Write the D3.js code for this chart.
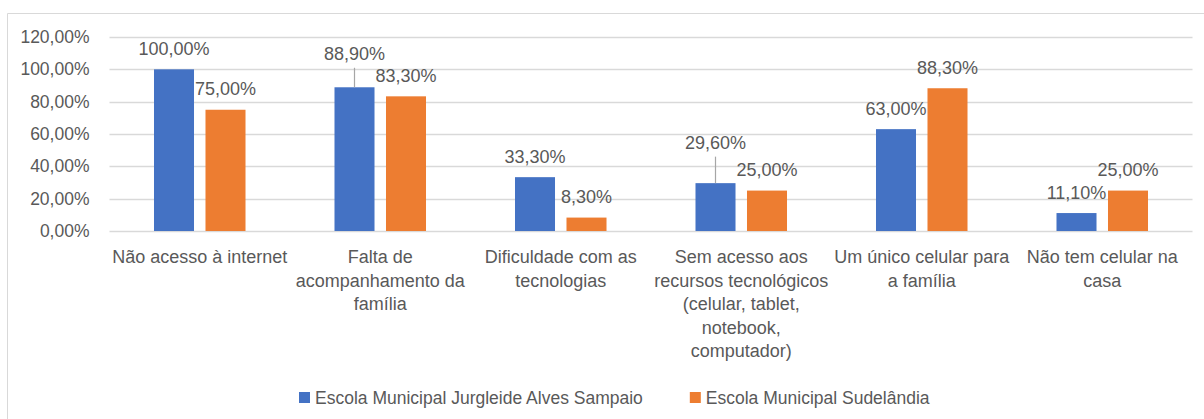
<!DOCTYPE html>
<html>
<head>
<meta charset="utf-8">
<script src="https://cdn.jsdelivr.net/npm/d3@7"></script>
<style>
    body { margin: 0; background: #fff; }
    svg { display: block; font-family: "Liberation Sans", Arial, sans-serif; }
    .axis-label, .cat-label, .value-label, .legend-label { fill: #595959; }
</style>
</head>
<body>
<div id="chart"></div>
<script>

// data
var categories = [
    ["Não acesso à internet"],
    ["Falta de", "acompanhamento da", "família"],
    ["Dificuldade com as", "tecnologias"],
    ["Sem acesso aos", "recursos tecnológicos", "(celular, tablet,", "notebook,", "computador)"],
    ["Um único celular para", "a família"],
    ["Não tem celular na", "casa"]
];
var seriesNames = ["Escola Municipal Jurgleide Alves Sampaio", "Escola Municipal Sudelândia"];
var jurgleideValues = [100, 88.9, 33.3, 29.6, 63, 11.1];
var sudelandiaValues = [75, 83.3, 8.3, 25, 88.3, 25];
var yTicks = [0, 20, 40, 60, 80, 100, 120];
var seriesColors = ["#4472C4", "#ED7D31"];

// labels that were dragged up in the original (px), they get a leader line
var labelLift = [[0, 13, 0, 20, 0, 0], [0, 0, 0, 0, 0, 0]];

var ptBR = d3.formatLocale({ decimal: ",", thousands: ".", grouping: [3], currency: ["R$", ""] });
var pct = function(v) { return ptBR.format(".2f")(v) + "%"; };

/*
 * BarChart
 */
BarChart = function(_parentElement) {
    var vis = this;
    vis.parentElement = _parentElement;
    vis.initVis();
};

BarChart.prototype.initVis = function() {
    var vis = this;
    vis.width = 1204;
    vis.height = 419;

    vis.svg = d3.select("#" + vis.parentElement).append("svg")
        .attr("width", vis.width)
        .attr("height", vis.height);

    // chart area border (only left and top are inside the picture)
    vis.svg.append("path")
        .attr("d", "M7.5," + vis.height + "V13.5H" + vis.width)
        .attr("fill", "none")
        .attr("stroke", "#d9d9d9")
        .attr("stroke-width", 1);

    vis.x0 = d3.scaleBand()
        .domain(d3.range(categories.length))
        .range([109.5, 1192.5]);

    vis.x1 = d3.scaleBand()
        .domain([0, 1])
        .range([0, vis.x0.bandwidth()])
        .paddingInner(0.223)
        .paddingOuter(0.864);

    vis.y = d3.scaleLinear()
        .domain([0, 120])
        .range([231, 37]);

    vis.yAxis = d3.axisLeft(vis.y)
        .tickValues(yTicks)
        .tickFormat(pct)
        .tickSize(0)
        .tickPadding(20);

    vis.wrangleData();
};

BarChart.prototype.wrangleData = function() {
    var vis = this;
    vis.displayData = [];
    [jurgleideValues, sudelandiaValues].forEach(function(values, s) {
        values.forEach(function(v, i) {
            vis.displayData.push({ cat: i, series: s, value: v, lift: labelLift[s][i] });
        });
    });
    vis.updateVis();
};

BarChart.prototype.updateVis = function() {
    var vis = this;

    // gridlines
    vis.svg.append("g")
        .selectAll("line")
        .data(yTicks)
        .enter().append("line")
        .attr("x1", vis.x0.range()[0])
        .attr("x2", vis.x0.range()[1])
        .attr("y1", function(d) { return Math.round(vis.y(d)) + 0.5; })
        .attr("y2", function(d) { return Math.round(vis.y(d)) + 0.5; })
        .attr("stroke", "#d9d9d9")
        .attr("stroke-width", 1.3);

    var yg = vis.svg.append("g")
        .attr("class", "y-axis")
        .attr("transform", "translate(" + vis.x0.range()[0] + ",0)")
        .call(vis.yAxis);
    yg.select(".domain").remove();
    yg.selectAll("text")
        .attr("class", "axis-label")
        .attr("fill", "#595959")
        .style("font-size", "17.5px")
        .style("font-family", "'Liberation Sans', Arial, sans-serif");

    // bars
    vis.svg.append("g")
        .selectAll("rect")
        .data(vis.displayData)
        .enter().append("rect")
        .attr("x", function(d) { return vis.x0(d.cat) + vis.x1(d.series); })
        .attr("width", vis.x1.bandwidth())
        .attr("y", function(d) { return vis.y(d.value); })
        .attr("height", function(d) { return vis.y(0) - vis.y(d.value); })
        .attr("fill", function(d) { return seriesColors[d.series]; });

    // leader lines for moved labels
    vis.svg.append("g")
        .selectAll("line")
        .data(vis.displayData.filter(function(d) { return d.lift > 0; }))
        .enter().append("line")
        .attr("x1", function(d) { return vis.x0(d.cat) + vis.x1(d.series) + vis.x1.bandwidth() / 2; })
        .attr("x2", function(d) { return vis.x0(d.cat) + vis.x1(d.series) + vis.x1.bandwidth() / 2; })
        .attr("y1", function(d) { return vis.y(d.value) - 14.5 - d.lift + 8; })
        .attr("y2", function(d) { return vis.y(d.value); })
        .attr("stroke", "#a6a6a6")
        .attr("stroke-width", 1.2);

    // value labels
    vis.svg.append("g")
        .selectAll("text")
        .data(vis.displayData)
        .enter().append("text")
        .attr("class", "value-label")
        .attr("x", function(d) { return vis.x0(d.cat) + vis.x1(d.series) + vis.x1.bandwidth() / 2; })
        .attr("y", function(d) { return vis.y(d.value) - 14.5 - d.lift; })
        .attr("text-anchor", "middle")
        .style("font-size", "18px")
        .text(function(d) { return pct(d.value); });

    // category labels, already wrapped as in the original
    var cat = vis.svg.append("g")
        .selectAll("text")
        .data(categories)
        .enter().append("text")
        .attr("class", "cat-label")
        .attr("text-anchor", "middle")
        .style("font-size", "18px")
        .attr("transform", function(d, i) { return "translate(" + (vis.x0(i) + vis.x0.bandwidth() / 2) + ",263)"; });
    cat.selectAll("tspan")
        .data(function(d) { return d; })
        .enter().append("tspan")
        .attr("x", 0)
        .attr("y", function(d, i) { return i * 23.5; })
        .text(function(d) { return d; });

    // legend
    var lx = 299;
    seriesNames.forEach(function(name, s) {
        vis.svg.append("rect")
            .attr("x", lx)
            .attr("y", 392)
            .attr("width", 11)
            .attr("height", 11)
            .attr("fill", seriesColors[s]);
        var t = vis.svg.append("text")
            .attr("class", "legend-label")
            .attr("x", lx + 16)
            .attr("y", 403.5)
            .style("font-size", "17.5px")
            .text(name);
        lx += 16 + t.node().getComputedTextLength() + 47;
    });
};

var chart = new BarChart("chart");
</script>
</body>
</html>
